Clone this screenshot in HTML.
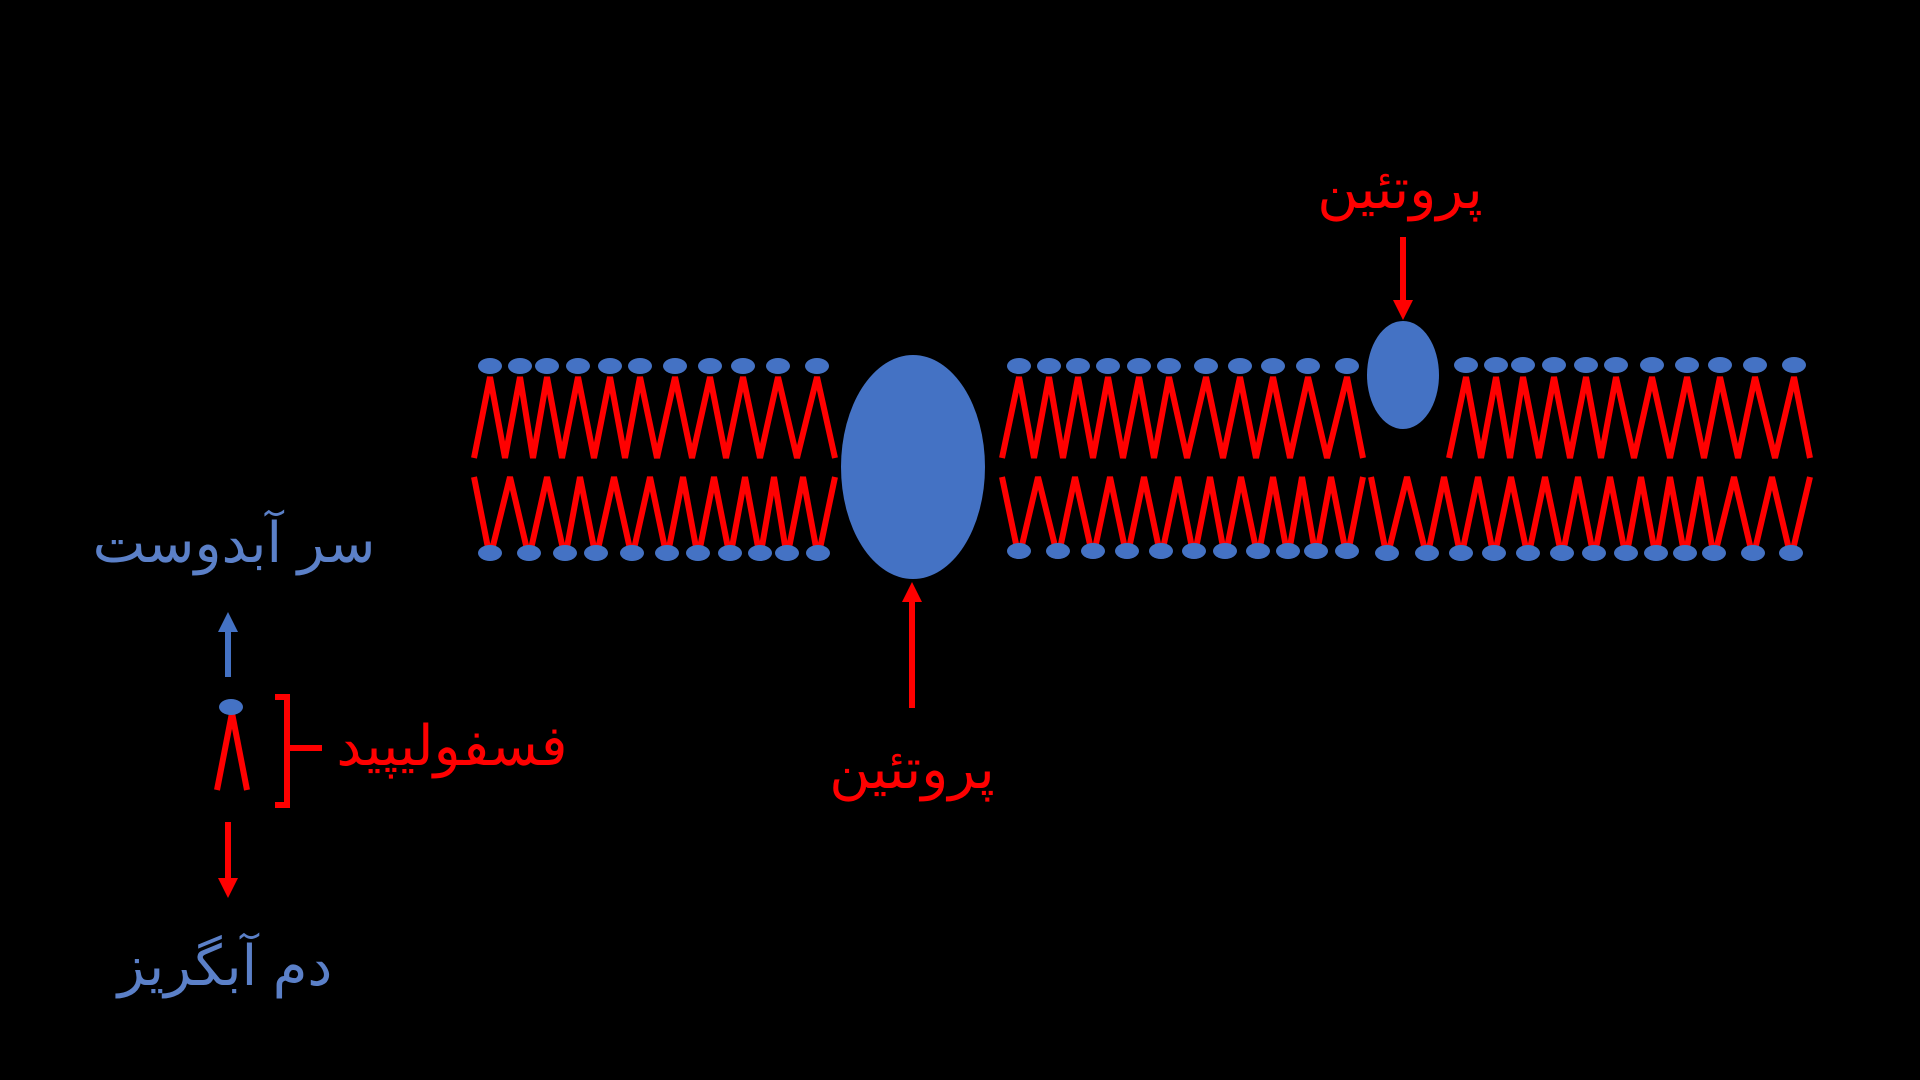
<!DOCTYPE html>
<html><head><meta charset="utf-8"><style>
html,body{margin:0;padding:0;background:#000;width:1920px;height:1080px;overflow:hidden}
svg{display:block}
text{font-family:"Liberation Sans","DejaVu Sans",sans-serif;}
</style></head><body>
<svg width="1920" height="1080" viewBox="0 0 1920 1080">
<rect width="1920" height="1080" fill="#000"/>
<g fill="none" stroke="#FF0000" stroke-width="6" stroke-linejoin="miter">
<polyline points="474,458 490,377 505,458 520,377 533,458 547,377 562,458 578,377 594,458 610,377 625,458 640,377 657,458 675,377 692,458 710,377 726,458 743,377 760,458 778,377 797,458 817,377 835,458"/>
<polyline points="474,477 490,558 510,477 529,558 547,477 565,558 580,477 596,558 614,477 632,558 650,477 667,558 683,477 698,558 714,477 730,558 745,477 760,558 774,477 787,558 803,477 818,558 835,477"/>
<polyline points="1002,458 1019,377 1034,458 1049,377 1063,458 1078,377 1093,458 1108,377 1123,458 1139,377 1154,458 1169,377 1187,458 1206,377 1223,458 1240,377 1256,458 1273,377 1290,458 1308,377 1327,458 1347,377 1363,458"/>
<polyline points="1002,477 1019,558 1038,477 1058,558 1075,477 1093,558 1110,477 1127,558 1144,477 1161,558 1178,477 1194,558 1210,477 1225,558 1241,477 1258,558 1273,477 1288,558 1302,477 1316,558 1331,477 1347,558 1363,477"/>
<polyline points="1371,477 1387,558 1407,477 1427,558 1444,477 1461,558 1478,477 1494,558 1511,477 1528,558 1545,477 1562,558 1578,477 1594,558 1610,477 1626,558 1641,477 1656,558 1670,477 1685,558 1700,477 1714,558 1734,477 1753,558 1772,477 1791,558 1810,477"/>
<polyline points="1449,458 1466,377 1481,458 1496,377 1510,458 1523,377 1539,458 1554,377 1570,458 1586,377 1601,458 1616,377 1634,458 1652,377 1670,458 1687,377 1704,458 1720,377 1738,458 1755,377 1775,458 1794,377 1810,458"/>
<polyline points="217,790 232,713 247,790"/>
<polyline points="275,697 287,697 287,805 275,805"/>
<line x1="287" y1="748" x2="322" y2="748"/>
<line x1="912" y1="708" x2="912" y2="600"/>
<line x1="1403" y1="237" x2="1403" y2="302"/>
<line x1="228" y1="822" x2="228" y2="880"/>
</g>
<g fill="#FF0000">
<polygon points="902,602 922,602 912,582"/>
<polygon points="1393,300 1413,300 1403,320"/>
<polygon points="218,878 238,878 228,898"/>
</g>
<line x1="228" y1="677" x2="228" y2="630" stroke="#4472C4" stroke-width="6"/>
<polygon points="218,632 238,632 228,612" fill="#4472C4"/>
<g fill="#4472C4">
<ellipse cx="913" cy="467" rx="72" ry="112"/>
<ellipse cx="1403" cy="375" rx="36" ry="54"/>
<ellipse cx="231" cy="707" rx="12" ry="8"/>
<!-- top heads seg1 -->
<ellipse cx="490" cy="366" rx="12" ry="8"/><ellipse cx="520" cy="366" rx="12" ry="8"/><ellipse cx="547" cy="366" rx="12" ry="8"/><ellipse cx="578" cy="366" rx="12" ry="8"/><ellipse cx="610" cy="366" rx="12" ry="8"/><ellipse cx="640" cy="366" rx="12" ry="8"/><ellipse cx="675" cy="366" rx="12" ry="8"/><ellipse cx="710" cy="366" rx="12" ry="8"/><ellipse cx="743" cy="366" rx="12" ry="8"/><ellipse cx="778" cy="366" rx="12" ry="8"/><ellipse cx="817" cy="366" rx="12" ry="8"/>
<!-- bottom heads seg1 -->
<ellipse cx="490" cy="553" rx="12" ry="8"/><ellipse cx="529" cy="553" rx="12" ry="8"/><ellipse cx="565" cy="553" rx="12" ry="8"/><ellipse cx="596" cy="553" rx="12" ry="8"/><ellipse cx="632" cy="553" rx="12" ry="8"/><ellipse cx="667" cy="553" rx="12" ry="8"/><ellipse cx="698" cy="553" rx="12" ry="8"/><ellipse cx="730" cy="553" rx="12" ry="8"/><ellipse cx="760" cy="553" rx="12" ry="8"/><ellipse cx="787" cy="553" rx="12" ry="8"/><ellipse cx="818" cy="553" rx="12" ry="8"/>
<!-- top seg2 -->
<ellipse cx="1019" cy="366" rx="12" ry="8"/><ellipse cx="1049" cy="366" rx="12" ry="8"/><ellipse cx="1078" cy="366" rx="12" ry="8"/><ellipse cx="1108" cy="366" rx="12" ry="8"/><ellipse cx="1139" cy="366" rx="12" ry="8"/><ellipse cx="1169" cy="366" rx="12" ry="8"/><ellipse cx="1206" cy="366" rx="12" ry="8"/><ellipse cx="1240" cy="366" rx="12" ry="8"/><ellipse cx="1273" cy="366" rx="12" ry="8"/><ellipse cx="1308" cy="366" rx="12" ry="8"/><ellipse cx="1347" cy="366" rx="12" ry="8"/>
<!-- bottom seg2 -->
<ellipse cx="1019" cy="551" rx="12" ry="8"/><ellipse cx="1058" cy="551" rx="12" ry="8"/><ellipse cx="1093" cy="551" rx="12" ry="8"/><ellipse cx="1127" cy="551" rx="12" ry="8"/><ellipse cx="1161" cy="551" rx="12" ry="8"/><ellipse cx="1194" cy="551" rx="12" ry="8"/><ellipse cx="1225" cy="551" rx="12" ry="8"/><ellipse cx="1258" cy="551" rx="12" ry="8"/><ellipse cx="1288" cy="551" rx="12" ry="8"/><ellipse cx="1316" cy="551" rx="12" ry="8"/><ellipse cx="1347" cy="551" rx="12" ry="8"/>
<!-- top seg3 -->
<ellipse cx="1466" cy="365" rx="12" ry="8"/><ellipse cx="1496" cy="365" rx="12" ry="8"/><ellipse cx="1523" cy="365" rx="12" ry="8"/><ellipse cx="1554" cy="365" rx="12" ry="8"/><ellipse cx="1586" cy="365" rx="12" ry="8"/><ellipse cx="1616" cy="365" rx="12" ry="8"/><ellipse cx="1652" cy="365" rx="12" ry="8"/><ellipse cx="1687" cy="365" rx="12" ry="8"/><ellipse cx="1720" cy="365" rx="12" ry="8"/><ellipse cx="1755" cy="365" rx="12" ry="8"/><ellipse cx="1794" cy="365" rx="12" ry="8"/>
<!-- bottom seg3 -->
<ellipse cx="1387" cy="553" rx="12" ry="8"/><ellipse cx="1427" cy="553" rx="12" ry="8"/><ellipse cx="1461" cy="553" rx="12" ry="8"/><ellipse cx="1494" cy="553" rx="12" ry="8"/><ellipse cx="1528" cy="553" rx="12" ry="8"/><ellipse cx="1562" cy="553" rx="12" ry="8"/><ellipse cx="1594" cy="553" rx="12" ry="8"/><ellipse cx="1626" cy="553" rx="12" ry="8"/><ellipse cx="1656" cy="553" rx="12" ry="8"/><ellipse cx="1685" cy="553" rx="12" ry="8"/><ellipse cx="1714" cy="553" rx="12" ry="8"/><ellipse cx="1753" cy="553" rx="12" ry="8"/><ellipse cx="1791" cy="553" rx="12" ry="8"/>
</g>
<g font-size="56" text-anchor="middle" direction="rtl">
<text x="1400" y="208" fill="#FF0000">پروتئین</text>
<text x="912" y="788" fill="#FF0000">پروتئین</text>
<text x="452" y="765" fill="#FF0000">فسفولیپید</text>
<text x="234" y="562" fill="#5B80C8">سر آبدوست</text>
<text x="225" y="985" fill="#5B80C8">دم آبگریز</text>
</g>
</svg>
</body></html>
